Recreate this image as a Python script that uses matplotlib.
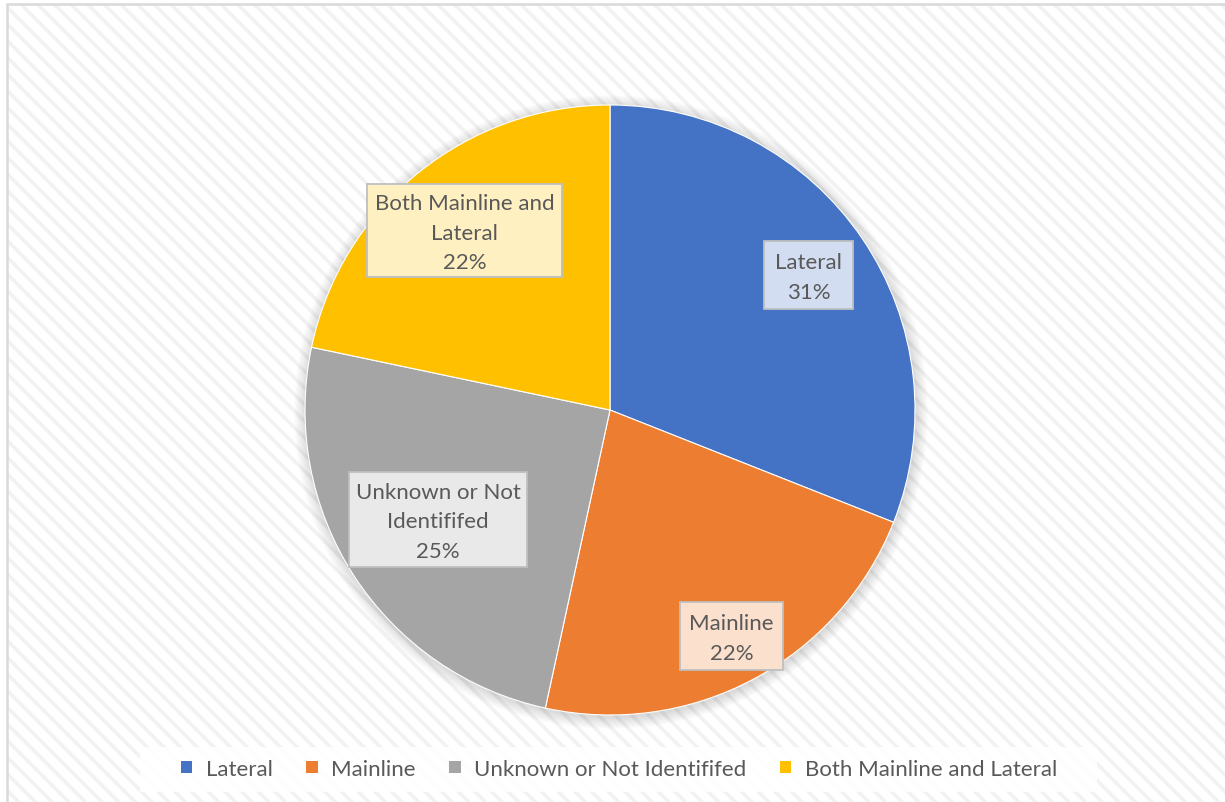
import matplotlib
matplotlib.use("Agg")
import matplotlib.pyplot as plt
from matplotlib.patches import Rectangle, Circle, Patch

categories = ["Lateral", "Mainline", "Unknown or Not Identififed", "Both Mainline and Lateral"]
values = [31.0, 22.4, 24.9, 21.7]
label_texts = ["Lateral\n31%", "Mainline\n22%", "Unknown or Not\nIdentififed\n25%", "Both Mainline and\nLateral\n22%"]
colors = ["#4472C4", "#ED7D31", "#A5A5A5", "#FFC000"]

W, H = 1225, 803
plt.rcParams['font.family'] = ['Lato', 'DejaVu Sans']
plt.rcParams['hatch.linewidth'] = 2.6
fig = plt.figure(figsize=(W / 100, H / 100), dpi=100)
ax = fig.add_axes([0, 0, 1, 1])

def py(y):
    return H - y

# background frame with diagonal stripes
ax.add_patch(Rectangle((7, py(805)), W, 800, facecolor='white', edgecolor='none', zorder=0))
ax.add_patch(Rectangle((7, py(805)), W, 800, facecolor='none', edgecolor='#F2F2F2',
                       hatch='\\\\', linewidth=0, zorder=0.5))
ax.add_patch(Rectangle((7, py(805)), W, 800, facecolor='none', edgecolor='#D9D9D9',
                       linewidth=1.8, zorder=1))

cx, cy, r = 610, py(411), 305
# soft shadow
for i in range(12):
    ax.add_patch(Circle((cx + 1, cy - 2), r + 12 - i, facecolor='#000000', alpha=0.012,
                        edgecolor='none', zorder=1.5))

wedges, _ = ax.pie(values, colors=colors, startangle=90, counterclock=False,
                   center=(cx, cy), radius=r, frame=True,
                   wedgeprops=dict(edgecolor='white', linewidth=0.8, zorder=2))
ax.set_xlim(0, W)
ax.set_ylim(0, H)
ax.set_aspect('equal')
ax.axis('off')

def lighten(c, f):
    import matplotlib.colors as mc
    rgb = mc.to_rgb(c)
    return tuple(1 - (1 - v) * (1 - f) for v in rgb)

# label boxes (x0, y0, x1, y1) in pixel coords
boxes = [(764, 242, 853, 310), (680, 603, 783, 671), (349, 473, 527, 568), (367, 185, 562, 278)]
for txt, col, (x0, y0, x1, y1) in zip(label_texts, colors, boxes):
    ax.add_patch(Rectangle((x0, py(y1)), x1 - x0, y1 - y0, facecolor=lighten(col, 0.76),
                           edgecolor='#BFBFBF', linewidth=1.3, zorder=3))
    ax.text((x0 + x1) / 2, py((y0 + y1) / 2) - 2, txt, ha='center', va='center',
            fontsize=16, color='#595959', linespacing=1.6, zorder=4)

# legend area
ax.add_patch(Rectangle((140, py(793)), 957, 45, facecolor='white', alpha=0.85,
                       edgecolor='none', zorder=3))
handles = [Patch(facecolor=c, edgecolor='none') for c in colors]
leg = ax.legend(handles, categories, loc='center', bbox_to_anchor=(619 / W, 1 - 770 / H),
                ncol=4, frameon=False, fontsize=16, handlelength=0.5, handleheight=0.5,
                handletextpad=0.6, columnspacing=1.53, labelcolor='#595959')
leg.set_zorder(5)

fig.savefig("out.png", dpi=100)
